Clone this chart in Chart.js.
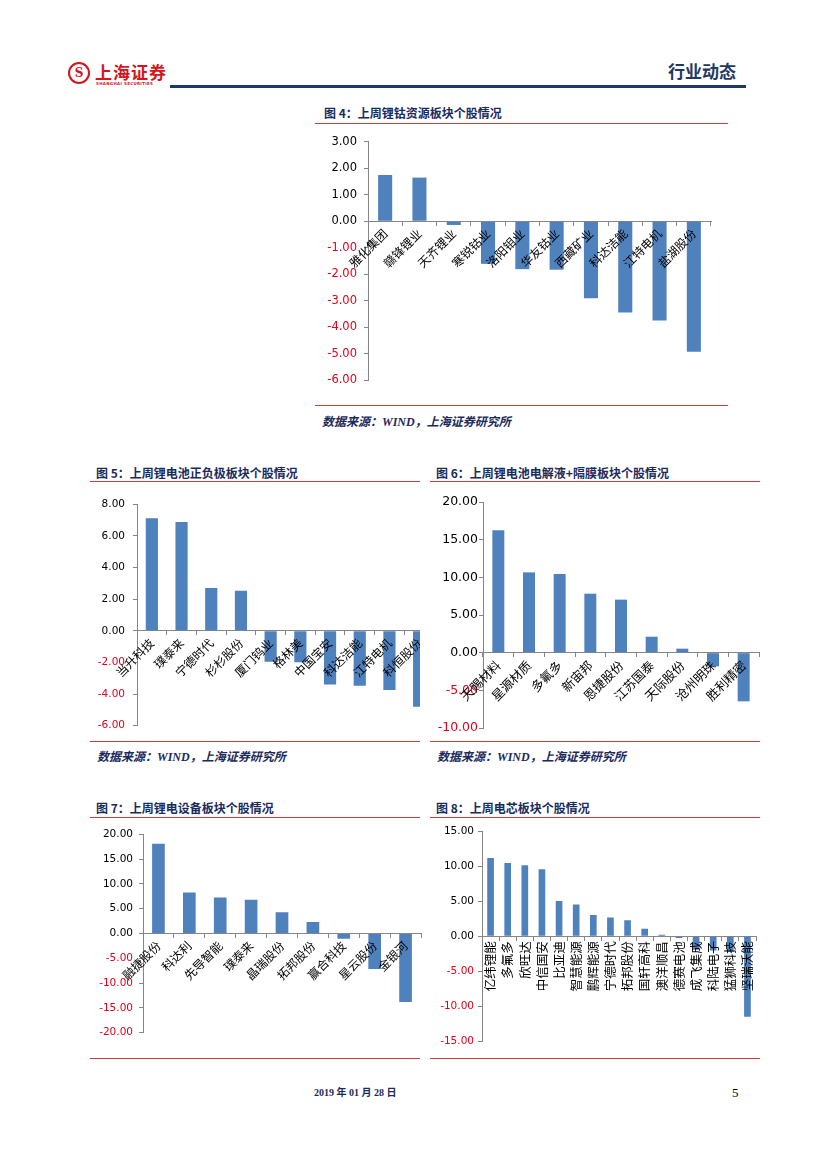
<!DOCTYPE html>
<html lang="zh">
  <head>
    <meta charset="UTF-8" />
    <title>行业动态 p5</title>
    <script src="https://cdn.jsdelivr.net/npm/chart.js@4"></script>
    <style>
      body {
        margin: 0;
        width: 827px;
        height: 1169px;
        background: #fff;
        position: relative;
        font-family: "Noto Sans CJK SC", sans-serif;
      }
      .abs { position: absolute; }
      .title {
        font-size: 12px;
        font-weight: 700;
        color: #1b2a5c;
        line-height: 16px;
        white-space: nowrap;
      }
      .src {
        font-family: "Liberation Serif", "Noto Sans CJK SC", serif;
        font-size: 12px;
        font-weight: 700;
        font-style: italic;
        color: #1b2a5c;
        line-height: 16px;
        white-space: nowrap;
      }
      .red { height: 1px; background: #cf3a3a; }
      canvas { position: absolute; }
    </style>
  </head>
  <body>
    <!-- header -->
    <div class="abs" style="left:68px;top:62px;width:22px;height:22px;border:2px solid #d7141a;border-radius:50%;box-sizing:border-box;color:#d7141a;font:700 12px 'DejaVu Serif';text-align:center;line-height:18px;">S</div>
    <div class="abs" style="left:95px;top:62px;color:#d7141a;font-weight:700;font-size:17px;line-height:20px;letter-spacing:1px;">上海证券</div>
    <div class="abs" style="left:96px;top:81px;color:#d7141a;font:700 4px 'DejaVu Sans';line-height:5px;letter-spacing:0.3px;">SHANGHAI SECURITIES</div>
    <div class="abs" style="left:170px;top:85px;width:576px;height:3px;background:#1f3864;"></div>
    <div class="abs" style="left:668px;top:60px;font-size:17px;font-weight:700;color:#1f3864;line-height:22px;">行业动态</div>

    <!-- fig 4 -->
    <div class="abs title" style="left:324px;top:105px;">图 4：上周锂钴资源板块个股情况</div>
    <div class="abs red" style="left:315px;top:123px;width:413px;"></div>
    <canvas id="fig4" width="413" height="272" style="left:315px;top:128px;"></canvas>
    <div class="abs red" style="left:315px;top:405px;width:413px;"></div>
    <div class="abs src" style="left:322px;top:414px;">数据来源：WIND，上海证券研究所</div>

    <!-- fig 5 -->
    <div class="abs title" style="left:96px;top:465px;">图 5：上周锂电池正负极板块个股情况</div>
    <div class="abs red" style="left:90px;top:481px;width:330px;"></div>
    <div class="abs" style="left:90px;top:490px;width:330px;height:250px;overflow:hidden;">
      <canvas id="fig5" width="350" height="250" style="left:0;top:0;"></canvas>
    </div>
    <div class="abs red" style="left:90px;top:741px;width:330px;"></div>
    <div class="abs src" style="left:97px;top:749px;">数据来源：WIND，上海证券研究所</div>

    <!-- fig 6 -->
    <div class="abs title" style="left:436px;top:465px;">图 6：上周锂电池电解液+隔膜板块个股情况</div>
    <div class="abs red" style="left:430px;top:481px;width:330px;"></div>
    <canvas id="fig6" width="335" height="250" style="left:430px;top:490px;"></canvas>
    <div class="abs red" style="left:430px;top:741px;width:330px;"></div>
    <div class="abs src" style="left:437px;top:749px;">数据来源：WIND，上海证券研究所</div>

    <!-- fig 7 -->
    <div class="abs title" style="left:96px;top:800px;">图 7：上周锂电设备板块个股情况</div>
    <div class="abs red" style="left:90px;top:817px;width:330px;"></div>
    <canvas id="fig7" width="336" height="223" style="left:90px;top:822px;"></canvas>
    <div class="abs red" style="left:90px;top:1058px;width:330px;"></div>

    <!-- fig 8 -->
    <div class="abs title" style="left:436px;top:800px;">图 8：上周电芯板块个股情况</div>
    <div class="abs red" style="left:430px;top:817px;width:330px;"></div>
    <canvas id="fig8" width="335" height="232" style="left:430px;top:820px;"></canvas>
    <div class="abs red" style="left:430px;top:1058px;width:330px;"></div>

    <!-- footer -->
    <div class="abs" style="left:314px;top:1086px;font:700 10px 'Liberation Serif','Noto Sans CJK SC';color:#1b2a5c;line-height:14px;">2019 年 01 月 28 日</div>
    <div class="abs" style="left:732px;top:1085px;font:13px 'Liberation Serif';color:#000;line-height:16px;">5</div>

    <script>
      // weekly change, %
      const fig4Labels = ["雅化集团", "赣锋锂业", "天齐锂业", "寒锐钴业", "洛阳钼业", "华友钴业", "西藏矿业", "科达洁能", "江特电机", "盐湖股份"];
      const fig4Values = [1.75, 1.65, -0.14, -1.61, -1.81, -1.83, -2.91, -3.45, -3.75, -4.93];
      const fig4Axis = [-6, 3, 1];

      const fig5Labels = ["当升科技", "璞泰来", "宁德时代", "杉杉股份", "厦门钨业", "格林美", "中国宝安", "科达洁能", "江特电机", "科恒股份"];
      const fig5Values = [7.11, 6.88, 2.70, 2.54, -1.95, -1.98, -3.39, -3.47, -3.74, -4.80];
      const fig5Axis = [-6, 8, 2];

      const fig6Labels = ["天赐材料", "星源材质", "多氟多", "新宙邦", "恩捷股份", "江苏国泰", "天际股份", "沧州明珠", "胜利精密"];
      const fig6Values = [16.24, 10.66, 10.44, 7.83, 7.04, 2.12, 0.53, -1.81, -6.46];
      const fig6Axis = [-10, 20, 5];

      const fig7Labels = ["融捷股份", "科达利", "先导智能", "璞泰来", "晶瑞股份", "拓邦股份", "赢合科技", "星云股份", "金银河"];
      const fig7Values = [18.09, 8.29, 7.24, 6.78, 4.28, 2.30, -1.05, -7.17, -13.80];
      const fig7Axis = [-20, 20, 5];

      const fig8Labels = ["亿纬锂能", "多氟多", "欣旺达", "中信国安", "比亚迪", "智慧能源", "鹏辉能源", "宁德时代", "拓邦股份", "国轩高科", "澳洋顺昌", "德赛电池", "成飞集成", "科陆电子", "猛狮科技", "坚瑞沃能"];
      const fig8Values = [11.16, 10.45, 10.13, 9.56, 5.02, 4.55, 3.05, 2.67, 2.30, 1.08, 0.23, -0.23, -1.90, -2.00, -2.20, -11.44];
      const fig8Axis = [-15, 15, 5];

      const axisGray = "#868686";

      function barChart(id, labels, values, axis, opt) {
        return new Chart(document.getElementById(id), {
          type: "bar",
          data: {
            labels: labels,
            datasets: [{
              data: values,
              backgroundColor: "#4f81bd",
              categoryPercentage: 1,
              barPercentage: opt.bar
            }]
          },
          options: {
            responsive: false,
            animation: false,
            layout: { padding: opt.pad },
            plugins: { legend: { display: false }, tooltip: { enabled: false } },
            scales: {
              x: {
                position: { y: 0 },
                grid: { drawOnChartArea: false, drawTicks: true, tickLength: 4, color: axisGray, offset: true },
                border: { color: axisGray },
                ticks: {
                  z: 1, // names sit on top of the bars
                  autoSkip: false,
                  minRotation: opt.rot,
                  maxRotation: opt.rot,
                  padding: 1,
                  color: "#000",
                  font: { family: "Noto Sans CJK SC", size: opt.xf }
                }
              },
              y: {
                min: axis[0],
                max: axis[1],
                afterFit: s => { s.width = opt.yw; },
                grid: { drawOnChartArea: false, tickLength: 4, color: axisGray },
                border: { color: axisGray },
                ticks: {
                  stepSize: axis[2],
                  padding: opt.yp,
                  color: c => (c.tick.value < 0 ? "#e2001a" : "#000"),
                  callback: v => v.toFixed(2),
                  font: { family: "DejaVu Sans", size: opt.yf }
                }
              }
            }
          }
        });
      }

      barChart("fig4", fig4Labels, fig4Values, fig4Axis, { bar: 0.41, rot: 45, xf: 12, yf: 11.5, yp: 7, yw: 45, pad: { left: 8, right: 17, top: 12, bottom: 20 } });
      barChart("fig5", fig5Labels, fig5Values, fig5Axis, { bar: 0.41, rot: 45, xf: 12, yf: 10.5, yp: 8, yw: 40, pad: { left: 7, right: 6, top: 13, bottom: 13 } });
      barChart("fig6", fig6Labels, fig6Values, fig6Axis, { bar: 0.39, rot: 45, xf: 12.5, yf: 12.5, yp: 1, yw: 47, pad: { left: 6, right: 6, top: 12, bottom: 12 } });
      barChart("fig7", fig7Labels, fig7Values, fig7Axis, { bar: 0.41, rot: 45, xf: 12, yf: 10.5, yp: 6, yw: 47, pad: { left: 6, right: 5, top: 12, bottom: 8 } });
      barChart("fig8", fig8Labels, fig8Values, fig8Axis, { bar: 0.39, rot: 90, xf: 12.5, yf: 10.5, yp: 4, yw: 46, pad: { left: 6, right: 9, top: 11, bottom: 8 } });
    </script>
  </body>
</html>
